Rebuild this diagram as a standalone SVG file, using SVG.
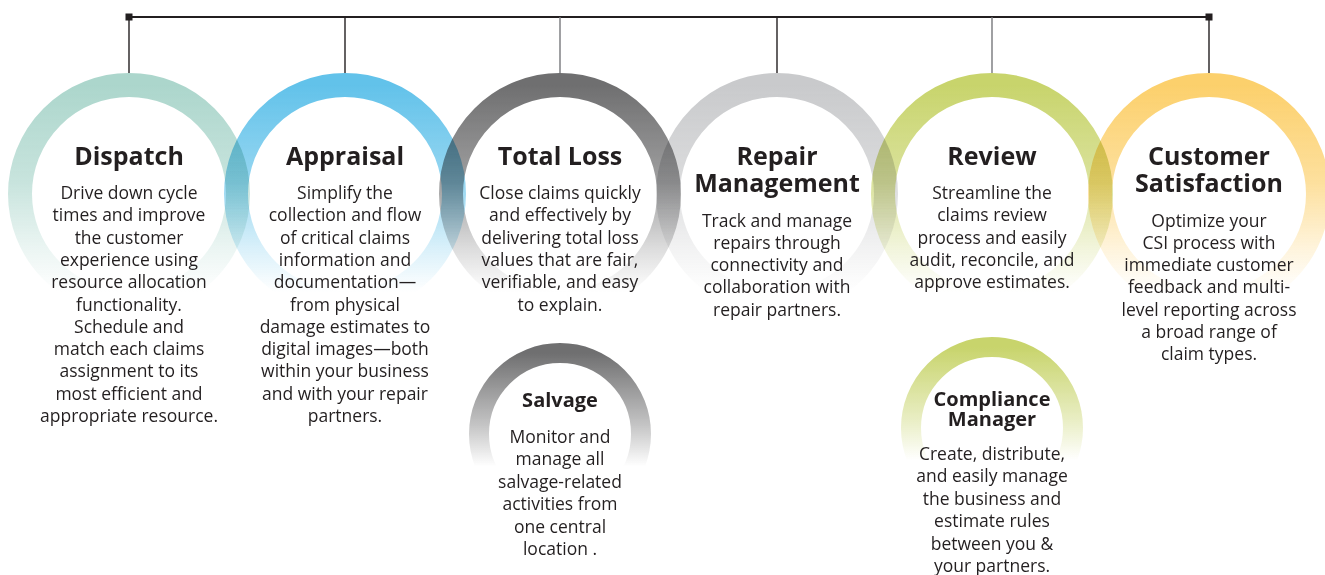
<svg xmlns="http://www.w3.org/2000/svg" width="1325" height="575" viewBox="0 0 1325 575">
<defs>
<linearGradient id="gDispatch" x1="0" y1="0" x2="0" y2="1"><stop offset="0" stop-color="#acd6cc" stop-opacity="1"/><stop offset="0.45" stop-color="#acd6cc" stop-opacity="0.66"/><stop offset="0.75" stop-color="#acd6cc" stop-opacity="0.24"/><stop offset="0.95" stop-color="#acd6cc" stop-opacity="0"/></linearGradient>
<linearGradient id="gAppraisal" x1="0" y1="0" x2="0" y2="1"><stop offset="0" stop-color="#62c2ea" stop-opacity="1"/><stop offset="0.45" stop-color="#62c2ea" stop-opacity="0.66"/><stop offset="0.75" stop-color="#62c2ea" stop-opacity="0.24"/><stop offset="0.95" stop-color="#62c2ea" stop-opacity="0"/></linearGradient>
<linearGradient id="gTotal" x1="0" y1="0" x2="0" y2="1"><stop offset="0" stop-color="#6f6f70" stop-opacity="1"/><stop offset="0.45" stop-color="#6f6f70" stop-opacity="0.66"/><stop offset="0.75" stop-color="#6f6f70" stop-opacity="0.24"/><stop offset="0.95" stop-color="#6f6f70" stop-opacity="0"/></linearGradient>
<linearGradient id="gRepair" x1="0" y1="0" x2="0" y2="1"><stop offset="0" stop-color="#c9cacc" stop-opacity="1"/><stop offset="0.45" stop-color="#c9cacc" stop-opacity="0.66"/><stop offset="0.75" stop-color="#c9cacc" stop-opacity="0.24"/><stop offset="0.95" stop-color="#c9cacc" stop-opacity="0"/></linearGradient>
<linearGradient id="gReview" x1="0" y1="0" x2="0" y2="1"><stop offset="0" stop-color="#c8d46c" stop-opacity="1"/><stop offset="0.45" stop-color="#c8d46c" stop-opacity="0.66"/><stop offset="0.75" stop-color="#c8d46c" stop-opacity="0.24"/><stop offset="0.95" stop-color="#c8d46c" stop-opacity="0"/></linearGradient>
<linearGradient id="gCustomer" x1="0" y1="0" x2="0" y2="1"><stop offset="0" stop-color="#fcd06c" stop-opacity="1"/><stop offset="0.45" stop-color="#fcd06c" stop-opacity="0.66"/><stop offset="0.75" stop-color="#fcd06c" stop-opacity="0.24"/><stop offset="0.95" stop-color="#fcd06c" stop-opacity="0"/></linearGradient>
<linearGradient id="gSalvage" x1="0" y1="0" x2="0" y2="1"><stop offset="0" stop-color="#6f6f70" stop-opacity="1"/><stop offset="0.45" stop-color="#6f6f70" stop-opacity="0.4"/><stop offset="0.7" stop-color="#6f6f70" stop-opacity="0"/></linearGradient>
<linearGradient id="gCompliance" x1="0" y1="0" x2="0" y2="1"><stop offset="0" stop-color="#c8d46c" stop-opacity="1"/><stop offset="0.45" stop-color="#c8d46c" stop-opacity="0.4"/><stop offset="0.7" stop-color="#c8d46c" stop-opacity="0"/></linearGradient>
</defs>
<style>
.ring{fill:none;stroke-width:24;mix-blend-mode:multiply}
.sring{fill:none;stroke-width:20;mix-blend-mode:multiply}
.h{font-family:"Open Sans","Liberation Sans",sans-serif;font-weight:700;font-size:25px;fill:#231f20;text-anchor:middle}
.hs{font-family:"Open Sans","Liberation Sans",sans-serif;font-weight:700;font-size:20px;fill:#231f20;text-anchor:middle}
.b{font-family:"Open Sans","Liberation Sans",sans-serif;font-size:17.5px;fill:#231f20;text-anchor:middle}
.dk{stroke:#231f20;stroke-width:1.4}
.lt{stroke:#77787b;stroke-width:1.4}
</style>
<g id="rings">
<circle class="ring" cx="129" cy="194" r="109" stroke="url(#gDispatch)"/>
<circle class="ring" cx="345" cy="194" r="109" stroke="url(#gAppraisal)"/>
<circle class="ring" cx="560" cy="194" r="109" stroke="url(#gTotal)"/>
<circle class="ring" cx="777" cy="194" r="109" stroke="url(#gRepair)"/>
<circle class="ring" cx="992" cy="194" r="109" stroke="url(#gReview)"/>
<circle class="ring" cx="1209" cy="194" r="109" stroke="url(#gCustomer)"/>
<circle class="sring" cx="560" cy="434" r="81" stroke="url(#gSalvage)"/>
<circle class="sring" cx="992" cy="428" r="81" stroke="url(#gCompliance)"/>
</g>
<g id="connectors">
<line x1="129" y1="17" x2="1209" y2="17" stroke="#231f20" stroke-width="2"/>
<rect x="125.5" y="13.5" width="7" height="7" fill="#231f20"/>
<rect x="1205.5" y="13.5" width="7" height="7" fill="#231f20"/>
<line class="dk" x1="129" y1="17" x2="129" y2="73"/>
<line class="dk" x1="345" y1="17" x2="345" y2="73"/>
<line class="lt" x1="560" y1="17" x2="560" y2="73"/>
<line class="dk" x1="777" y1="17" x2="777" y2="73"/>
<line class="lt" x1="992" y1="17" x2="992" y2="73"/>
<line class="dk" x1="1209" y1="17" x2="1209" y2="73"/>
</g>
<g id="dispatch">
<text class="h" x="129" y="165">Dispatch</text>
<text class="b" x="129" y="199">Drive down cycle</text>
<text class="b" x="129" y="221.3">times and improve</text>
<text class="b" x="129" y="243.6">the customer</text>
<text class="b" x="129" y="265.9">experience using</text>
<text class="b" x="129" y="288.2">resource allocation</text>
<text class="b" x="129" y="310.5">functionality.</text>
<text class="b" x="129" y="332.8">Schedule and</text>
<text class="b" x="129" y="355.1">match each claims</text>
<text class="b" x="129" y="377.4">assignment to its</text>
<text class="b" x="129" y="399.7">most efficient and</text>
<text class="b" x="129" y="422">appropriate resource.</text>
</g>
<g id="appraisal">
<text class="h" x="345" y="165">Appraisal</text>
<text class="b" x="345" y="199">Simplify the</text>
<text class="b" x="345" y="221.3">collection and flow</text>
<text class="b" x="345" y="243.6">of critical claims</text>
<text class="b" x="345" y="265.9">information and</text>
<text class="b" x="345" y="288.2">documentation—</text>
<text class="b" x="345" y="310.5">from physical</text>
<text class="b" x="345" y="332.8">damage estimates to</text>
<text class="b" x="345" y="355.1">digital images—both</text>
<text class="b" x="345" y="377.4">within your business</text>
<text class="b" x="345" y="399.7">and with your repair</text>
<text class="b" x="345" y="422">partners.</text>
</g>
<g id="total-loss">
<text class="h" x="560" y="165">Total Loss</text>
<text class="b" x="560" y="199">Close claims quickly</text>
<text class="b" x="560" y="221.3">and effectively by</text>
<text class="b" x="560" y="243.6">delivering total loss</text>
<text class="b" x="560" y="265.9">values that are fair,</text>
<text class="b" x="560" y="288.2">verifiable, and easy</text>
<text class="b" x="560" y="310.5">to explain.</text>
</g>
<g id="repair-management">
<text class="h" x="777" y="165">Repair<tspan x="777" y="192">Management</tspan></text>
<text class="b" x="777" y="226.5">Track and manage</text>
<text class="b" x="777" y="248.8">repairs through</text>
<text class="b" x="777" y="271.1">connectivity and</text>
<text class="b" x="777" y="293.4">collaboration with</text>
<text class="b" x="777" y="315.7">repair partners.</text>
</g>
<g id="review">
<text class="h" x="992" y="165">Review</text>
<text class="b" x="992" y="199">Streamline the</text>
<text class="b" x="992" y="221.3">claims review</text>
<text class="b" x="992" y="243.6">process and easily</text>
<text class="b" x="992" y="265.9">audit, reconcile, and</text>
<text class="b" x="992" y="288.2">approve estimates.</text>
</g>
<g id="customer-satisfaction">
<text class="h" x="1209" y="165">Customer<tspan x="1209" y="192">Satisfaction</tspan></text>
<text class="b" x="1209" y="226.5">Optimize your</text>
<text class="b" x="1209" y="248.8">CSI process with</text>
<text class="b" x="1209" y="271.1">immediate customer</text>
<text class="b" x="1209" y="293.4">feedback and multi-</text>
<text class="b" x="1209" y="315.7">level reporting across</text>
<text class="b" x="1209" y="338">a broad range of</text>
<text class="b" x="1209" y="360.3">claim types.</text>
</g>
<g id="salvage">
<text class="hs" x="560" y="407">Salvage</text>
<text class="b" x="560" y="443">Monitor and</text>
<text class="b" x="560" y="465.4">manage all</text>
<text class="b" x="560" y="487.8">salvage-related</text>
<text class="b" x="560" y="510.2">activities from</text>
<text class="b" x="560" y="532.6">one central</text>
<text class="b" x="560" y="555">location .</text>
</g>
<g id="compliance-manager">
<text class="hs" x="992" y="406">Compliance<tspan x="992" y="426">Manager</tspan></text>
<text class="b" x="992" y="460">Create, distribute,</text>
<text class="b" x="992" y="482.4">and easily manage</text>
<text class="b" x="992" y="504.8">the business and</text>
<text class="b" x="992" y="527.2">estimate rules</text>
<text class="b" x="992" y="549.6">between you &amp;</text>
<text class="b" x="992" y="572">your partners.</text>
</g>
</svg>
